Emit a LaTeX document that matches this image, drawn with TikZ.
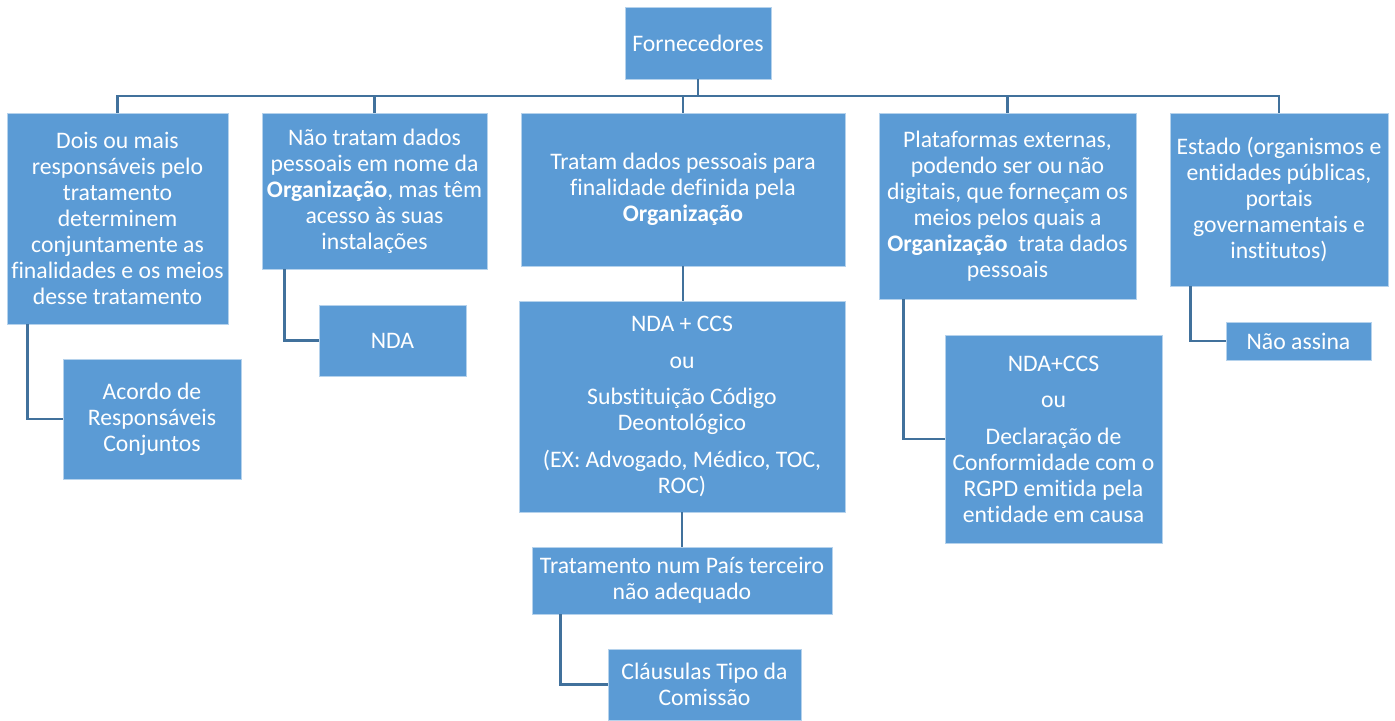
\documentclass[tikz,border=0pt]{standalone}
\usepackage{fontspec}
\setmainfont{Carlito}[Ligatures={NoCommon}]
\usepackage{xcolor}
\usepackage{tikz}
\usetikzlibrary{calc}

\definecolor{azul}{HTML}{5B9BD5}
\definecolor{azulescuro}{HTML}{41719C}

\begin{document}
\begin{tikzpicture}[x=0.02cm, y=-0.02cm,
    caixa/.style={fill=azul, draw=white!55!azul, line width=0.5pt, text=white,
        align=center, inner sep=0pt, font=\fontsize{13.5pt}{14.8pt}\selectfont},
    linha/.style={draw=azulescuro, line width=1.3pt}]
    \useasboundingbox (0,0) rectangle (1395,720);

    % 1. Topo e primeiro nivel
    \node[caixa, minimum width=2.92cm, minimum height=1.44cm] (forn) at (698,43) {Fornecedores};
    \node[caixa, minimum width=4.42cm, minimum height=4.22cm] (dois) at (117.5,218.5)
        {Dois ou mais\\ responsáveis pelo\\ tratamento\\ determinem\\ conjuntamente as\\ finalidades e os meios\\ desse tratamento};
    \node[caixa, minimum width=4.5cm, minimum height=3.12cm] (naotratam) at (374.5,191)
        {Não tratam dados\\ pessoais em nome da\\ \textbf{Organização}, mas têm\\ acesso às suas\\ instalações};
    \node[caixa, minimum width=6.48cm, minimum height=3.06cm] (tratam) at (683,189.5)
        {Tratam dados pessoais para\\ finalidade definida pela\\ \textbf{Organização}};
    \node[caixa, minimum width=5.14cm, minimum height=3.72cm] (plataf) at (1007.5,206)
        {Plataformas externas,\\ podendo ser ou não\\ digitais, que forneçam os\\ meios pelos quais a\\ \textbf{Organização}\ \ trata dados\\ pessoais};
    \node[caixa, minimum width=4.36cm, minimum height=3.46cm] (estado) at (1279,199.5)
        {Estado (organismos e\\ entidades públicas,\\ portais\\ governamentais e\\ institutos)};

    % 2. Segundo nivel
    \node[caixa, minimum width=3.56cm, minimum height=2.4cm] (acordo) at (152,419)
        {Acordo de\\ Responsáveis\\ Conjuntos};
    \node[caixa, minimum width=2.94cm, minimum height=1.42cm] (nda) at (392.5,340.5) {NDA};
    \node[caixa, minimum width=6.52cm, minimum height=4.22cm] (ndaccs) at (682,406.5)
        {NDA + CCS\\[6pt] ou\\[6pt] Substituição Código\\ Deontológico\\[6pt] (EX: Advogado, Médico, TOC,\\ ROC)};
    \node[caixa, minimum width=4.34cm, minimum height=4.16cm] (declar) at (1053.5,439)
        {NDA+CCS\\[6pt] ou\\[6pt] Declaração de\\ Conformidade com o\\ RGPD emitida pela\\ entidade em causa};
    \node[caixa, minimum width=2.9cm, minimum height=0.76cm] (naoassina) at (1298.5,341) {Não assina};

    % 3. Terceiro nivel
    \node[caixa, minimum width=6cm, minimum height=1.34cm] (pais) at (682,580.5)
        {Tratamento num País terceiro\\ não adequado};
    \node[caixa, minimum width=3.86cm, minimum height=1.42cm] (clausulas) at (704.5,684.5)
        {Cláusulas Tipo da\\ Comissão};

    % 4. Ligacoes
    \coordinate (bus) at (0,96);
    \draw[linha] (forn.south) -- (forn.south |- bus);
    \draw[linha] (dois.north) -- (dois.north |- bus) -- (estado.north |- bus) -- (estado.north);
    \foreach \n in {naotratam, tratam, plataf}
        \draw[linha] (\n.north) -- (\n.north |- bus);
    \draw[linha] ($(dois.south west)+(21,0)$) |- (acordo.west);
    \draw[linha] ($(naotratam.south west)+(23,0)$) |- (nda.west);
    \draw[linha] ($(plataf.south west)+(25,0)$) |- (declar.west);
    \draw[linha] ($(estado.south west)+(21,0)$) |- (naoassina.west);
    \draw[linha] (tratam.south) -- (tratam.south |- ndaccs.north);
    \draw[linha] (ndaccs.south) -- (ndaccs.south |- pais.north);
    \draw[linha] ($(pais.south west)+(29,0)$) |- (clausulas.west);
\end{tikzpicture}
\end{document}
